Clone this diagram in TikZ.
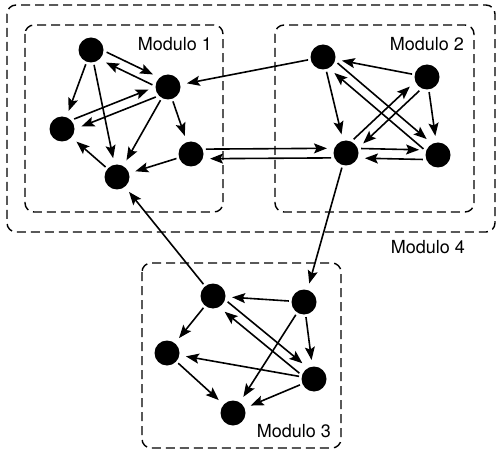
\documentclass[tikz,border=0pt]{standalone}
\usepackage{fontspec}
\setmainfont{TeX Gyre Heros}
\usetikzlibrary{calc,arrows.meta}
\tikzset{
  dot/.style={circle,fill=black,draw=none,minimum size=25pt,inner sep=0pt},
  modbox/.style={draw,dashed,dash pattern=on 9pt off 5pt,line width=1.4pt,rounded corners=9pt},
  modlabel/.style={font=\fontsize{18}{18}\selectfont,inner sep=0pt},
  arrbase/.style={line width=1.6pt,-{Stealth[length=13pt,width=10pt,inset=2.5pt]}},
  arr/.style={arrbase,shorten <=2.5pt,shorten >=6.5pt},
  arrc/.style={arrbase,shorten <=15pt,shorten >=19pt},
}
\newcommand\pairarrows[2]{%
  \draw[arrc] ($(#1)!4.8pt!90:(#2)$) -- ($(#2)!4.8pt!-90:(#1)$);
  \draw[arrc] ($(#2)!4.8pt!90:(#1)$) -- ($(#1)!4.8pt!-90:(#2)$);}
\begin{document}
\begin{tikzpicture}[x=1pt,y=-1pt]
\useasboundingbox (0,0) rectangle (500,454);
% module boxes
\draw[modbox] (7,5) rectangle (495,232);
\draw[modbox] (25,25) rectangle (223,212);
\draw[modbox] (275,25) rectangle (474,212);
\draw[modbox] (142,263) rectangle (341,448);
\node[modlabel,anchor=east] (l1) at (212,44) {Modulo 1};
\node[modlabel,anchor=east] (l2) at (464,44) {Modulo 2};
\node[modlabel,anchor=east] (l3) at (331,431) {Modulo 3};
\node[modlabel,anchor=east] (l4) at (465,247) {Modulo 4};
% module 1 nodes
\node[dot] (a1) at (91,50) {};
\node[dot] (a2) at (168,87) {};
\node[dot] (a3) at (62,129) {};
\node[dot] (a4) at (191,154) {};
\node[dot] (a5) at (117,177) {};
% module 2 nodes
\node[dot] (b1) at (323,57) {};
\node[dot] (b2) at (427,77) {};
\node[dot] (b3) at (346,153) {};
\node[dot] (b4) at (438,155) {};
% module 3 nodes
\node[dot] (c1) at (213,296) {};
\node[dot] (c2) at (304,302) {};
\node[dot] (c3) at (167,353) {};
\node[dot] (c4) at (314,379) {};
\node[dot] (c5) at (233,413) {};
% module 1 edges
\pairarrows{a1}{a2}
\pairarrows{a2}{a3}
\draw[arr] (a1) -- (a3);
\draw[arr] (a1) -- (a5);
\draw[arr] (a2) -- (a4);
\draw[arr] (a2) -- (a5);
\draw[arr] (a4) -- (a5);
\draw[arr] (a5) -- (a3);
% module 2 edges
\draw[arr] (b2) -- (b1);
\draw[arr] (b1) -- (b3);
\draw[arr] (b2) -- (b4);
\pairarrows{b1}{b4}
\pairarrows{b3}{b2}
\pairarrows{b3}{b4}
% module 3 edges
\draw[arr] (c2) -- (c1);
\draw[arr] (c1) -- (c3);
\pairarrows{c1}{c4}
\draw[arr] (c2) -- (c4);
\draw[arr] (c2) -- (c5);
\draw[arr] (c4) -- (c3);
\draw[arr] (c4) -- (c5);
\draw[arr] (c3) -- (c5);
% inter-module edges
\draw[arr] (b1) -- (a2);
\pairarrows{a4}{b3}
\draw[arr] (b3) -- (c2);
\draw[arr] (c1) -- (a5);
\end{tikzpicture}
\end{document}
